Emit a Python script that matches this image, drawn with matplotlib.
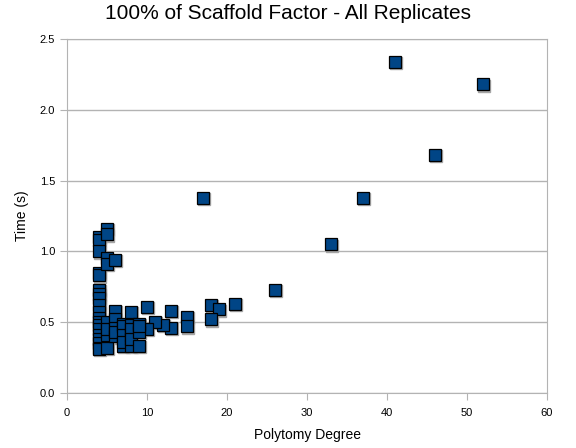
import matplotlib
matplotlib.use("Agg")
from matplotlib import pyplot as plt
from matplotlib import transforms

# polytomy degree vs. time
degree = [41, 52, 46, 37, 17, 33, 26, 21, 18, 19, 18,
          15, 15, 13, 13, 12, 11, 10, 10,
          4, 4, 4, 4, 4, 4, 4, 4, 4, 4, 4, 4, 4, 4, 4, 4, 4, 4, 4,
          5, 5, 5, 5, 5, 5, 5, 5,
          6, 6, 6, 6, 6, 6,
          7, 7, 7, 7, 7,
          8, 8, 8, 8, 8, 8,
          9, 9, 9, 9]
times = [2.34, 2.18, 1.68, 1.38, 1.38, 1.05, 0.73, 0.63, 0.62, 0.59, 0.52,
         0.54, 0.47, 0.58, 0.46, 0.48, 0.50, 0.61, 0.45,
         1.10, 1.08, 1.00, 0.85, 0.83, 0.73, 0.70, 0.67, 0.62, 0.57, 0.53,
         0.50, 0.48, 0.45, 0.41, 0.38, 0.35, 0.32, 0.31,
         1.16, 1.12, 0.95, 0.91, 0.50, 0.41, 0.32, 0.45,
         0.94, 0.58, 0.52, 0.46, 0.40, 0.43,
         0.49, 0.47, 0.41, 0.33, 0.36,
         0.57, 0.48, 0.41, 0.33, 0.45, 0.38,
         0.49, 0.43, 0.33, 0.47]

x_ticks = [0, 10, 20, 30, 40, 50, 60]
y_ticks = [0.0, 0.5, 1.0, 1.5, 2.0, 2.5]

plt.rcParams["font.family"] = ["Liberation Sans", "DejaVu Sans"]
fig = plt.figure(dpi=100, figsize=(5.76, 4.48))
ax = fig.add_axes([0.1163, 0.1228, 0.8334, 0.7901])

# drop shadow behind the markers
shadow = transforms.offset_copy(ax.transData, fig=fig, x=1.2, y=-1.2, units="dots")
ax.plot(degree, times, "s", ms=8.6, color="#a6a6a6", mec="#a6a6a6",
        transform=shadow, zorder=2)
ax.plot(degree, times, "s", ms=8.6, color="#004586", mec="black",
        mew=0.9, zorder=3)

ax.set_xlim(0, 60)
ax.set_ylim(0, 2.5)
ax.set_xticks(x_ticks)
ax.set_yticks(y_ticks)
ax.set_yticklabels(["%.1f" % v for v in y_ticks])
ax.grid(axis="y", color="#b3b3b3", linewidth=1)
ax.set_axisbelow(True)
for side in ["left", "bottom", "right", "top"]:
    ax.spines[side].set_color("#b3b3b3")
ax.tick_params(axis="both", labelsize=8, color="#b3b3b3", length=5,
               labelcolor="black")
ax.tick_params(axis="x", pad=6)

fig.suptitle("100% of Scaffold Factor - All Replicates", fontsize=15, y=0.99)
ax.set_xlabel("Polytomy Degree", fontsize=10, labelpad=7)
ax.set_ylabel("Time (s)", fontsize=10, labelpad=8)

plt.savefig("out.png")
